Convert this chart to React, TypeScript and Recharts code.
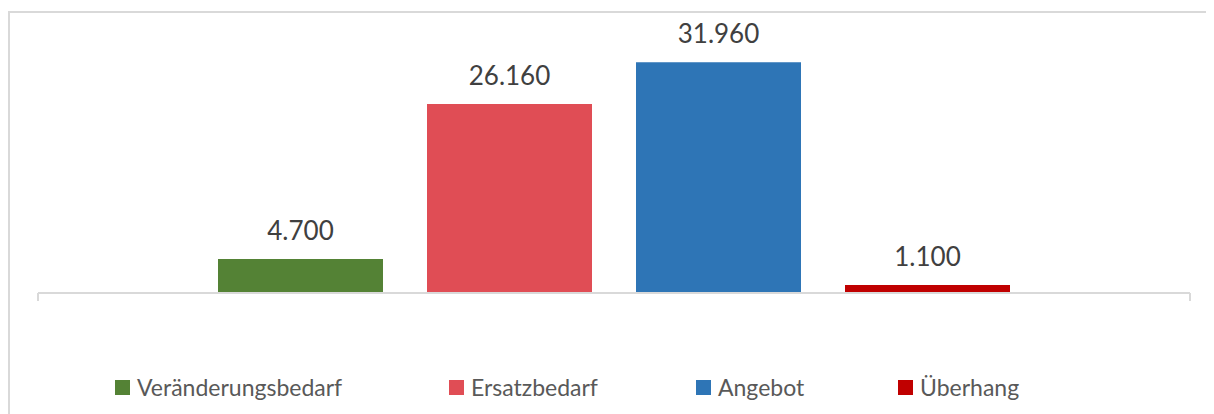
import { BarChart, Bar, XAxis, YAxis, LabelList, Legend } from 'recharts';

const seriesNames = ['Veränderungsbedarf', 'Ersatzbedarf', 'Angebot', 'Überhang'];
const seriesKeys = ['veraenderung', 'ersatz', 'angebot', 'ueberhang'];
const seriesValues = [4700, 26160, 31960, 1100];
const seriesColors = ['#548235', '#E04D55', '#2E75B6', '#C00000'];

const data = [
  seriesKeys.reduce((row: any, key, i) => {
    row[key] = seriesValues[i];
    return row;
  }, { name: '' }),
];

const fmt = (v: any) => String(v).replace(/\B(?=(\d{3})+(?!\d))/g, '.');

const FONT = 'Lato, "Open Sans", sans-serif';
const legendWidths = [334, 247, 202, 160];

// Excel puts the tick marks on the category boundaries, not in the middle
const BoundaryTick = (props: any) => {
  const { x, y, payload } = props;
  const half = payload && payload.offset ? payload.offset : 0;
  return (
    <g>
      <line x1={x - half} x2={x - half} y1={y} y2={y + 8} stroke="#d9d9d9" strokeWidth={2} />
      <line x1={x + half} x2={x + half} y1={y} y2={y + 8} stroke="#d9d9d9" strokeWidth={2} />
    </g>
  );
};

const LegendContent = () => (
  <div style={{ display: 'flex', alignItems: 'center', paddingLeft: 105, fontFamily: FONT }}>
    {seriesNames.map((name, i) => (
      <div key={name} style={{ display: 'flex', alignItems: 'center', width: legendWidths[i] }}>
        <span style={{ display: 'inline-block', width: 15, height: 15, background: seriesColors[i], marginRight: 7 }} />
        <span style={{ fontSize: 23, color: '#595959', lineHeight: '20px' }}>{name}</span>
      </div>
    ))}
  </div>
);

export default function App() {
  return (
    <div
      style={{
        marginTop: 3,
        width: 1204,
        height: 401,
        borderTop: '2px solid #d9d9d9',
        borderLeft: '2px solid #d9d9d9',
        background: '#fff',
        overflow: 'hidden',
      }}
    >
      <BarChart
        width={1204}
        height={401}
        data={data}
        margin={{ top: 20, right: 24, bottom: 120, left: 28 }}
        barGap={44}
      >
        <XAxis
          dataKey="name"
          tick={<BoundaryTick />}
          tickLine={false}
          tickSize={0}
          tickMargin={0}
          height={1}
          axisLine={{ stroke: '#d9d9d9', strokeWidth: 2 }}
        />
        <YAxis hide domain={[0, 36000]} />
        <Legend
          layout="vertical"
          verticalAlign="middle"
          align="center"
          content={<LegendContent />}
          wrapperStyle={{ top: 364, left: 0, width: 1204 }}
        />
        {seriesKeys.map((key, i) => (
          <Bar key={key} dataKey={key} name={seriesNames[i]} fill={seriesColors[i]} barSize={165} isAnimationActive={false}>
            <LabelList
              dataKey={key}
              position="top"
              offset={19}
              formatter={fmt}
              style={{ fontFamily: FONT, fontSize: 26, fill: '#404040' }}
            />
          </Bar>
        ))}
      </BarChart>
    </div>
  );
}
